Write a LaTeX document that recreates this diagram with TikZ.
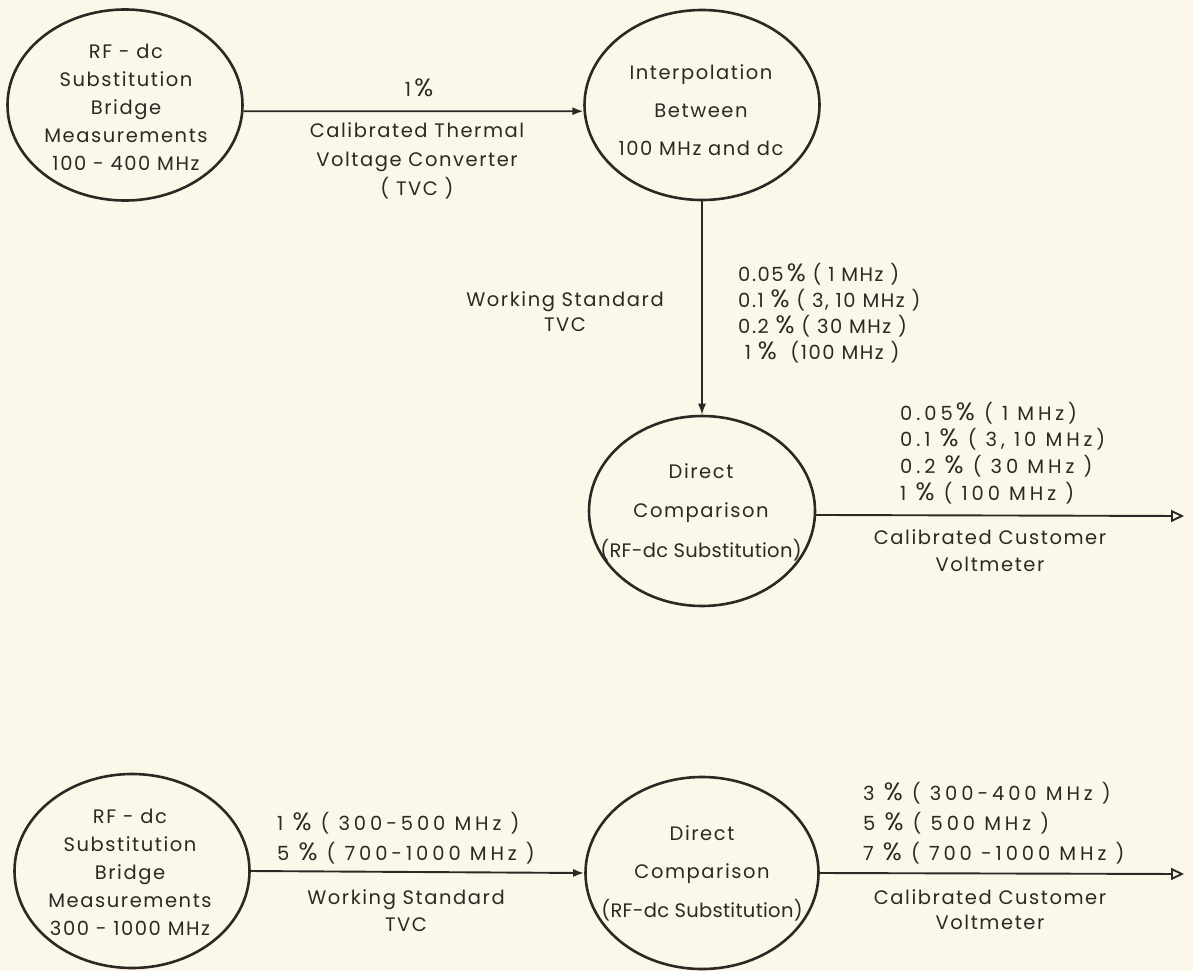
\documentclass[tikz,border=0pt]{standalone}
\usepackage{fontspec}
\setmainfont{Poppins}[LetterSpace=8]
\usetikzlibrary{shapes.geometric,arrows.meta}
\definecolor{bg}{HTML}{FBF8EA}
\definecolor{ink}{HTML}{2E2724}
\newcommand\lblfont{\fontsize{19.5}{28}\selectfont}
\newcommand\pc{{\fontsize{25}{0}\selectfont\%}}
\newcommand\wide{\addfontfeature{LetterSpace=20}}
\begin{document}
\begin{tikzpicture}[x=1pt,y=-1pt,
  bubble/.style={draw=ink, line width=2.6pt, ellipse, inner sep=0pt},
  txt/.style={text=ink, font=\lblfont, align=center, inner sep=0pt},
  ltxt/.style={text=ink, font=\lblfont, align=left, inner sep=0pt, anchor=west},
  link/.style={draw=ink, line width=1.9pt, -{Latex[length=11pt,width=8pt]}},
  outlink/.style={draw=ink, line width=1.9pt, -{Triangle[open,length=13pt,width=12pt,fill=bg]}}]
\useasboundingbox (0,0) rectangle (1193,971);
\fill[bg] (0,0) rectangle (1193,971);

% ellipses
\node[bubble, minimum width=235pt, minimum height=191pt] (A) at (125,105) {};
\node[bubble, minimum width=235pt, minimum height=190pt] (B) at (702,105) {};
\node[bubble, minimum width=226pt, minimum height=190pt] (C) at (702,511) {};
\node[bubble, minimum width=235pt, minimum height=194pt] (D) at (132,871) {};
\node[bubble, minimum width=233pt, minimum height=192pt] (E) at (702,873) {};

% ellipse texts
\node[txt] (At) at (126,107) {RF - dc\\Substitution\\Bridge\\Measurements\\100 - 400 MHz};
\node[txt, font=\fontsize{19.5}{38}\selectfont] (Bt) at (701,110) {Interpolation\\Between\\100 MHz and dc};
\node[txt, font=\fontsize{19.5}{39.5}\selectfont] (Ct) at (701,512) {Direct\\Comparison\\{\addfontfeature{LetterSpace=1.5}(RF-dc Substitution)}};
\node[txt] (Dt) at (130,872) {RF - dc\\Substitution\\Bridge\\Measurements\\300 - 1000 MHz};
\node[txt, font=\fontsize{19.5}{38.5}\selectfont] (Et) at (702,873) {Direct\\Comparison\\{\addfontfeature{LetterSpace=1.5}(RF-dc Substitution)}};

% free ends
\coordinate (Cout) at (1184,516);
\coordinate (Eout) at (1184,874);

% connectors
\draw[link] (A.-3) -- (B.-177);
\draw[link, line width=1.5pt] (B.south) -- (C.north);
\draw[outlink] (C.-2.5) -- (Cout);
\draw[link] (D.east) -- (E.west);
\draw[outlink] (E.east) -- (Eout);

% labels top arrow
\node[txt] (l1) at (419,88) {1\,\pc};
\node[txt, font=\fontsize{19.5}{29}\selectfont] (l2) at (417,161) {Calibrated Thermal\\Voltage Converter\\( TVC )};

% labels vertical arrow
\node[txt, font=\fontsize{19.5}{25}\selectfont] (l3) at (565,312) {Working Standard\\TVC};
\node[ltxt, font=\fontsize{19.5}{26}\selectfont] (l4) at (738,313) {0.05\,\pc\ ( 1 MHz )\\0.1 \pc\ ( 3, 10 MHz )\\0.2 \pc\ ( 30 MHz )\\\ 1 \pc\ \ (100 MHz )};

% labels right of C
\node[ltxt, font=\fontsize{19.5}{26.7}\selectfont] (l5) at (900,453) {\wide 0.05\,\pc\ ( 1 MHz)\\\wide 0.1 \pc\ ( 3, 10 MHz)\\\wide 0.2 \pc\ ( 30 MHz )\\\wide 1 \pc\ ( 100 MHz )};
\node[txt, font=\fontsize{19.5}{27}\selectfont] (l6) at (990,551) {Calibrated Customer\\Voltmeter};

% labels bottom D-E
\node[ltxt, font=\fontsize{19.5}{30}\selectfont] (l7) at (277,838) {\wide 1 \pc\ ( 300-500 MHz )\\\wide 5 \pc\ ( 700-1000 MHz )};
\node[txt, font=\fontsize{19.5}{27}\selectfont] (l8) at (406,911) {Working Standard\\TVC};

% labels right of E
\node[ltxt, font=\fontsize{19.5}{30}\selectfont] (l9) at (863,823) {\wide 3 \pc\ ( 300-400 MHz )\\\wide 5 \pc\ ( 500 MHz )\\\wide 7 \pc\ ( 700 -1000 MHz )};
\node[txt, font=\fontsize{19.5}{25}\selectfont] (l10) at (990,910) {Calibrated Customer\\Voltmeter};
\end{tikzpicture}
\end{document}
